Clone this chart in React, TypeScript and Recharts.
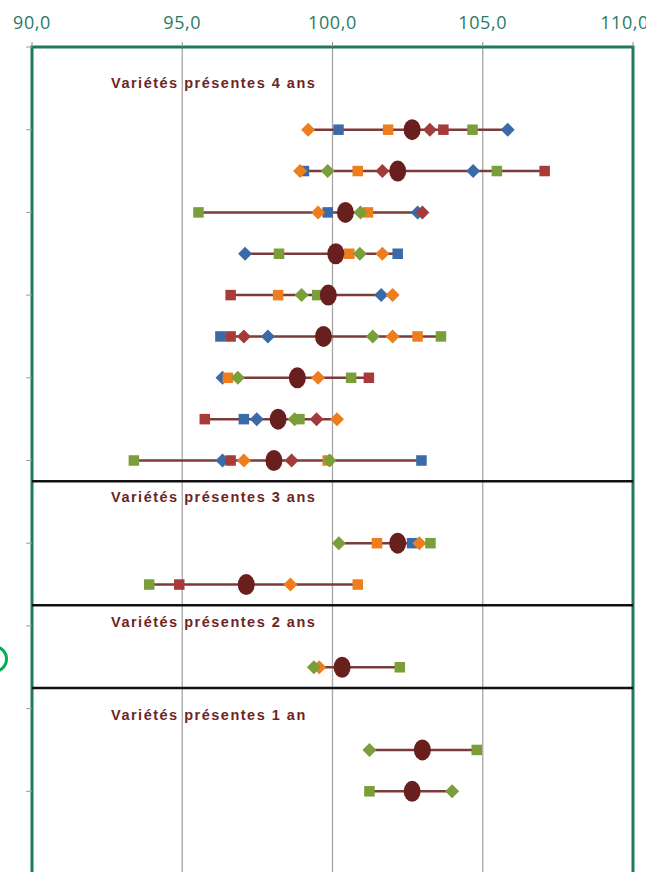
import { ScatterChart, Scatter, XAxis, YAxis, CartesianGrid, ReferenceLine, ReferenceArea, ErrorBar } from 'recharts';

// x axis
const X_TICKS = [90, 95, 100, 105, 110];
const Y_TICKS = [-2, 0, 2, 4, 6, 8, 10, 12, 14, 16, 18];

// one row per variety, position on the (reversed) y axis
const ROW_POS = [0, 1, 2, 3, 4, 5, 6, 7, 8, 10, 11, 13, 15, 16];

// section separators and titles
const SEPARATORS = [8.5, 11.5, 13.5];
const SECTION_TITLES = [
  'Variétés présentes 4 ans',
  'Variétés présentes 3 ans',
  'Variétés présentes 2 ans',
  'Variétés présentes 1 an',
];
const SECTION_POS = [-1.14, 8.88, 11.9, 14.15];
const SECTION_X = 92.63;

// values per series (null = not tested)
const blueDiamond = [105.83, 104.68, 102.83, 97.09, 101.62, 97.85, 96.34, 97.48, 96.34, null, null, null, null, null];
const blueSquare = [100.2, 99.05, 99.84, 102.17, null, 96.27, null, 97.05, 102.96, 102.65, null, null, null, null];
const orangeSquare = [101.85, 100.84, 101.18, 100.56, 98.19, 102.83, 96.52, null, 99.84, 101.48, 100.84, null, null, null];
const orangeDiamond = [99.19, 98.92, 99.52, 101.66, 102.0, 102.0, 99.52, 100.15, 97.05, 102.89, 98.6, 99.56, null, null];
const redSquare = [103.69, 107.06, null, null, 96.61, 96.61, 101.21, 95.75, 96.61, null, 94.9, null, null, null];
const redDiamond = [103.24, 101.66, 102.99, null, null, 97.05, null, 99.47, 98.64, null, null, null, null, null];
const greenSquare = [104.66, 105.47, 95.54, 98.22, 99.49, 103.61, 100.62, 98.9, 93.39, 103.26, 93.9, 102.24, 104.8, 101.23];
const greenDiamond = [null, 99.84, 100.93, 100.91, 98.97, 101.34, 96.85, 98.74, 99.9, 100.21, null, 99.38, 101.23, 103.98];
const meanValues = [102.65, 102.17, 100.43, 100.11, 99.86, 99.7, 98.83, 98.19, 98.05, 102.17, 97.13, 100.32, 102.99, 102.65];

const diamond = (color: string, r = 7) => (p: any) => (
  <polygon
    points={`${p.cx},${p.cy - r} ${p.cx + r},${p.cy} ${p.cx},${p.cy + r} ${p.cx - r},${p.cy}`}
    fill={color}
  />
);
const square = (color: string, s = 10.5) => (p: any) => (
  <rect x={p.cx - s / 2} y={p.cy - s / 2} width={s} height={s} fill={color} />
);

const SERIES = [
  { name: 'bd', values: blueDiamond, shape: diamond('#3b6aa8') },
  { name: 'bs', values: blueSquare, shape: square('#3b6aa8') },
  { name: 'os', values: orangeSquare, shape: square('#ee7d1e') },
  { name: 'od', values: orangeDiamond, shape: diamond('#ee7d1e') },
  { name: 'rs', values: redSquare, shape: square('#a83a3a') },
  { name: 'rd', values: redDiamond, shape: diamond('#a33b3b') },
  { name: 'gs', values: greenSquare, shape: square('#7a9e3a') },
  { name: 'gd', values: greenDiamond, shape: diamond('#7a9e3a') },
];

const toPoints = (values: (number | null)[]) =>
  values
    .map((v, i) => (v == null ? null : { x: v, y: ROW_POS[i] }))
    .filter(Boolean) as { x: number; y: number }[];

const rangeData = meanValues.map((m, i) => {
  const vals = SERIES.map((s) => s.values[i]).filter((v) => v != null) as number[];
  return { x: m, y: ROW_POS[i], err: [m - Math.min(...vals), Math.max(...vals) - m] };
});

const titleData = SECTION_TITLES.map((t, i) => ({ x: SECTION_X, y: SECTION_POS[i], label: t }));

const fmt = (v: number) => v.toFixed(1).replace('.', ',');

export default function App() {
  return (
    <div style={{ position: 'absolute', left: 0, top: 0, width: 646, height: 872, overflow: 'hidden', background: '#fff' }}>
      <ScatterChart width={646} height={900} margin={{ top: 0, right: 13, bottom: 26, left: 0 }}>
        <CartesianGrid horizontal={false} stroke="#a6a6a6" strokeWidth={1.3} />
        <XAxis
          type="number"
          dataKey="x"
          orientation="top"
          domain={[90, 110]}
          ticks={X_TICKS}
          height={47}
          tickFormatter={fmt}
          axisLine={false}
          tickSize={5}
          tickMargin={13}
          tickLine={{ stroke: '#8a8a8a' }}
          tick={{ fill: '#2b7a62', fontSize: 18, fontFamily: 'Open Sans', letterSpacing: 0.6 }}
        />
        <YAxis
          type="number"
          dataKey="y"
          reversed
          domain={[-2, 18]}
          ticks={Y_TICKS}
          width={32}
          axisLine={false}
          tickSize={6}
          tickLine={{ stroke: '#9a9a9a' }}
          tickFormatter={() => ''}
        />
        {SEPARATORS.map((y) => (
          <ReferenceLine key={y} y={y} stroke="#111" strokeWidth={2.5} />
        ))}
        <ReferenceArea x1={90} x2={110} y1={-2} y2={18} fill="none" stroke="#1f7a5b" strokeWidth={3} />
        <Scatter data={titleData} isAnimationActive={false} shape={(p: any) => (
          <text
            x={p.cx}
            y={p.cy}
            dominantBaseline="central"
            fill="#6e2424"
            fontSize={14.5}
            fontWeight="bold"
            fontFamily="Liberation Sans, Arial"
            letterSpacing={1.5}
          >
            {p.payload.label}
          </text>
        )} />
        <Scatter data={rangeData} isAnimationActive={false} shape={() => <g />}>
          <ErrorBar dataKey="err" direction="x" width={0} stroke="#7b3b3b" strokeWidth={2.5} isAnimationActive={false} />
        </Scatter>
        {SERIES.map((s) => (
          <Scatter key={s.name} data={toPoints(s.values)} shape={s.shape} isAnimationActive={false} />
        ))}
        <Scatter
          data={toPoints(meanValues)}
          isAnimationActive={false}
          shape={(p: any) => <ellipse cx={p.cx} cy={p.cy} rx={8.5} ry={10.5} fill="#6a1f1f" />}
        />
      </ScatterChart>
      <div
        style={{
          position: 'absolute',
          left: -20,
          top: 645,
          width: 22,
          height: 22,
          border: '3px solid #00b050',
          borderRadius: '50%',
        }}
      />
    </div>
  );
}
